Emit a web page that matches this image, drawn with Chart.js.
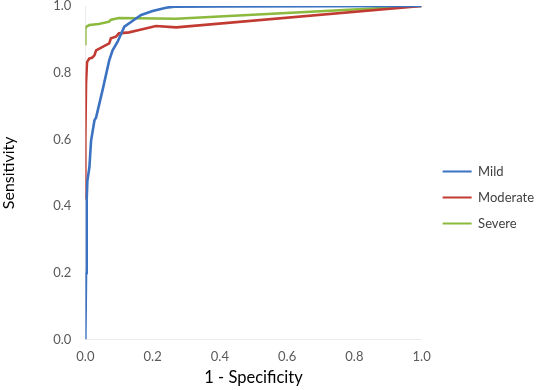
<!DOCTYPE html>
<html>
<head>
<meta charset="utf-8">
<script src="https://cdn.jsdelivr.net/npm/chart.js@4"></script>
<style>
html,body{margin:0;padding:0;background:#fff;}
#wrap{width:536px;height:390px;position:relative;}
</style>
</head>
<body>
<div id="wrap"><canvas id="c" width="536" height="390"></canvas></div>
<script>
const seriesNames = ["Mild", "Moderate", "Severe"];
const seriesColors = ["#3B72C1", "#C23B33", "#8CBA3F"];

const mildX = [0, 0.002, 0.004, 0.006, 0.012, 0.017, 0.027, 0.032, 0.051, 0.071, 0.081, 0.096, 0.116, 0.14, 0.166, 0.2, 0.24, 0.265, 0.4, 1.0];
const mildY = [0, 0.2, 0.42, 0.476, 0.516, 0.596, 0.657, 0.666, 0.747, 0.837, 0.867, 0.893, 0.938, 0.955, 0.973, 0.985, 0.995, 0.998, 0.999, 1.0];

const modX = [0, 0, 0.002, 0.005, 0.012, 0.02, 0.027, 0.032, 0.05, 0.071, 0.076, 0.091, 0.10, 0.13, 0.16, 0.21, 0.27, 1.0];
const modY = [0.42, 0.6, 0.768, 0.832, 0.843, 0.845, 0.852, 0.867, 0.877, 0.888, 0.903, 0.908, 0.918, 0.921, 0.928, 0.94, 0.936, 1.0];

const sevX = [0, 0, 0.003, 0.012, 0.04, 0.071, 0.075, 0.086, 0.10, 0.27, 1.0];
const sevY = [0.882, 0.933, 0.938, 0.943, 0.946, 0.953, 0.958, 0.961, 0.964, 0.962, 1.0];

const tickValues = [0, 0.2, 0.4, 0.6, 0.8, 1.0];
const xTitle = "1 - Specificity";
const yTitle = "Sensitivity";

function pts(xs, ys){ return xs.map((x,i)=>({x:x, y:ys[i]})); }
const allX = [mildX, modX, sevX];
const allY = [mildY, modY, sevY];

const datasets = seriesNames.map((n,i)=>({
  label: n,
  data: pts(allX[i], allY[i]),
  showLine: true,
  borderColor: seriesColors[i],
  backgroundColor: seriesColors[i],
  borderWidth: 2.6,
  pointRadius: 0,
  tension: 0
}));

const FONT = "Lato, 'Open Sans', sans-serif";

// shift legend block (layout only)
const legendShift = {
  id: 'legendShift',
  afterLayout(chart) {
    const lg = chart.legend;
    if (!lg) return;
    lg.left += 8; lg.right += 8;
    lg.top += 3.5; lg.bottom += 3.5;
  }
};

new Chart(document.getElementById('c'), {
  type: 'scatter',
  data: { datasets },
  plugins: [legendShift],
  options: {
    responsive: false,
    animation: false,
    layout: { padding: { left: -1, right: 0, top: 0, bottom: 2 } },
    plugins: {
      legend: {
        position: 'right',
        align: 'center',
        labels: {
          boxWidth: 29,
          boxHeight: 2,
          padding: 13,
          color: '#404040',
          font: { family: FONT, size: 13 },
          generateLabels: (chart) => chart.data.datasets.map((d,i)=>({
            text: d.label,
            fillStyle: d.borderColor,
            strokeStyle: d.borderColor,
            lineWidth: 0,
            hidden: false,
            datasetIndex: i,
            fontColor: '#404040'
          }))
        }
      },
      tooltip: { enabled: false }
    },
    scales: {
      x: {
        type: 'linear',
        min: 0, max: 1,
        afterBuildTicks: (s) => { s.ticks = tickValues.map(v=>({value:v})); },
        ticks: {
          callback: (v) => Number(v).toFixed(1),
          color: '#595959',
          font: { family: FONT, size: 13 },
          padding: 9,
          maxRotation: 0
        },
        grid: { display: false, drawTicks: false },
        border: { display: true, color: '#EBEBEB', width: 1 },
        title: { display: true, text: xTitle, color: '#000', font: { family: FONT, size: 16.5 }, padding: { top: -5, bottom: 0 } }
      },
      y: {
        type: 'linear',
        min: 0, max: 1,
        afterBuildTicks: (s) => { s.ticks = tickValues.map(v=>({value:v})); },
        afterFit: (s) => { s.paddingTop = 6; },
        ticks: {
          callback: (v) => Number(v).toFixed(1),
          color: '#595959',
          font: { family: FONT, size: 13 },
          padding: 14
        },
        grid: { display: false, drawTicks: false },
        border: { display: true, color: '#EBEBEB', width: 1 },
        title: { display: true, text: yTitle, color: '#000', font: { family: FONT, size: 16 }, padding: { top: 0, bottom: 21 } }
      }
    }
  }
});
</script>
</body>
</html>
